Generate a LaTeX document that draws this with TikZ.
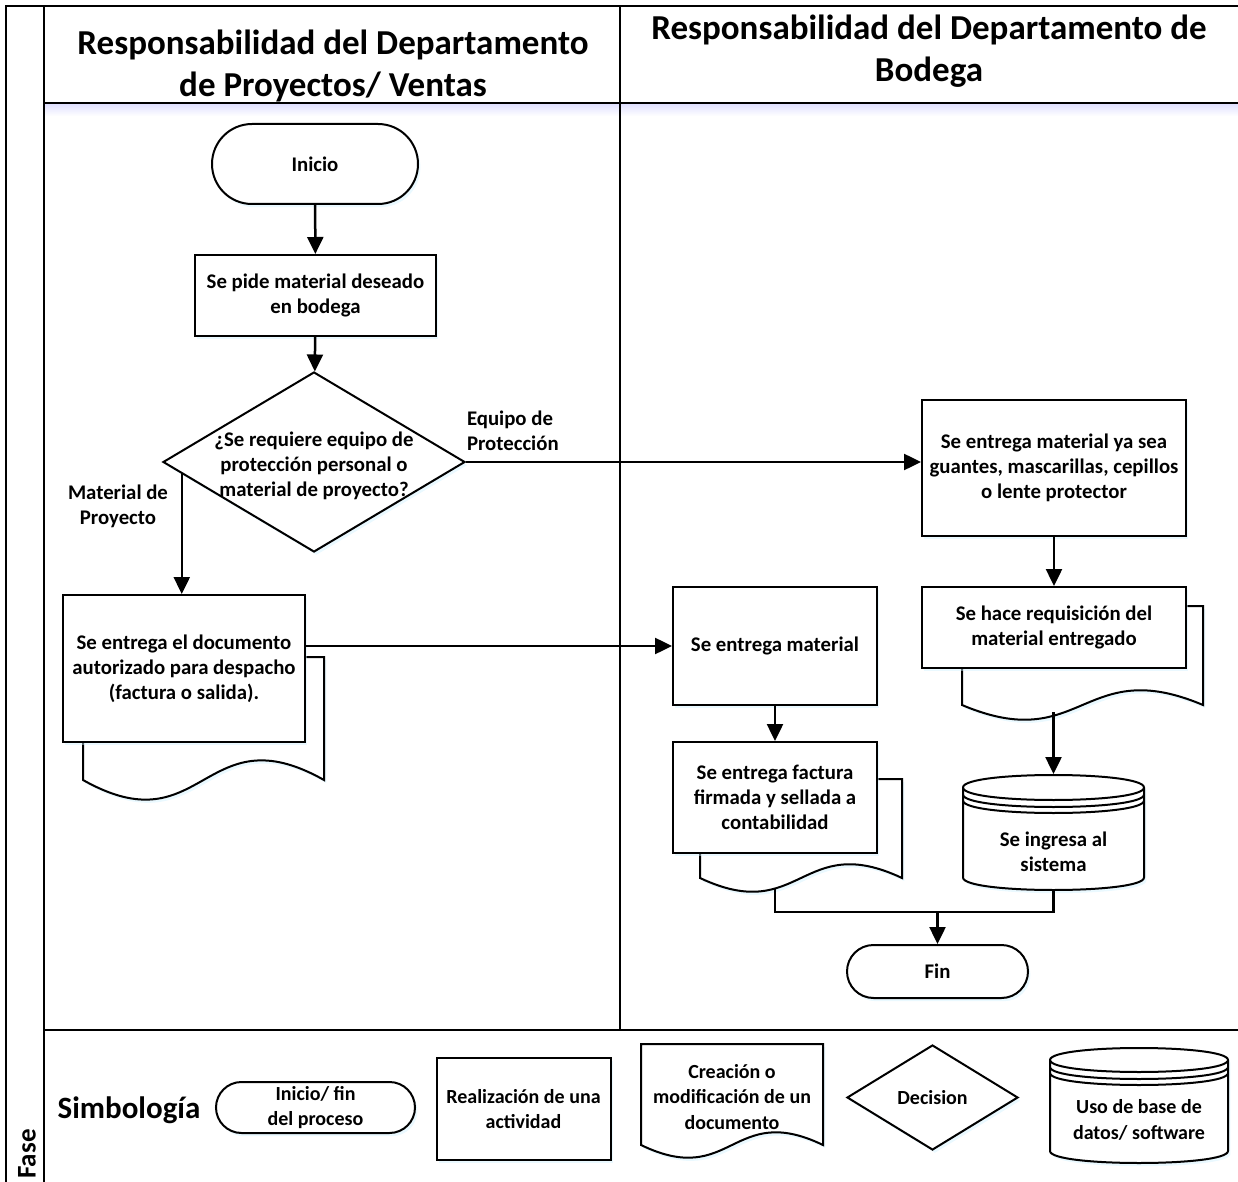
\documentclass[tikz,border=0pt]{standalone}
\usepackage{fontspec}
\setmainfont{Carlito}
\usetikzlibrary{shapes.geometric,shapes.misc,arrows.meta,calc,shadows}

% back sheet of a document: L R T B wave
\newcommand{\hojaatras}[5]{%
  \pgfmathsetmacro{\mw}{(#2-#1)/2}%
  \pgfmathsetmacro{\ola}{3.4*#5}%
  \draw[fill=white, sombra] (#1,#3) -- (#2,#3) -- (#2,#4)
    .. controls (#2-\mw,#4-\ola) and (#1+\mw,#4+\ola) .. (#1,#4) -- cycle;
}
% data base drum: L R T B ry
\newcommand{\basedatos}[5]{%
  \pgfmathsetmacro{\dbc}{4/3*#5}%
  \draw[fill=white, sombra] (#1,#3+#5) -- (#1,#4-#5)
    .. controls (#1,#4-#5+\dbc) and (#2,#4-#5+\dbc) .. (#2,#4-#5)
    -- (#2,#3+#5) .. controls (#2,#3+#5-\dbc) and (#1,#3+#5-\dbc) .. (#1,#3+#5) -- cycle;
  \foreach \desp in {0,7,13}
    \draw (#1,#3+#5+\desp) .. controls (#1,#3+#5+\desp+\dbc) and (#2,#3+#5+\desp+\dbc) .. (#2,#3+#5+\desp);
}

\tikzset{
  sombra/.style={drop shadow={shadow xshift=1.2pt, shadow yshift=-1.6pt, fill=blue!30!cyan!18, opacity=.45}},
  every node/.style={font=\bfseries\fontsize{10.4}{12.6}\selectfont, align=center},
}

\begin{document}
\begin{tikzpicture}[x=0.5pt, y=-0.5pt, line width=1pt,
  caja/.style={draw, fill=white, rectangle, inner sep=2pt, sombra},
  inicio/.style={draw, fill=white, rounded rectangle, inner sep=0pt, sombra},
  decision/.style={draw, fill=white, diamond, inner sep=0pt, sombra},
  texto/.style={inner sep=0pt},
  leyenda/.style={font=\bfseries\fontsize{10}{12.6}\selectfont},
  titulo/.style={font=\bfseries\fontsize{17.5}{21}\selectfont},
  flecha/.style={line width=1.25pt, -{Triangle[length=8.5pt,width=8pt]}},
  linea/.style={line width=1.25pt},
  marco/.style={line width=1.1pt}]
\useasboundingbox (0,0) rectangle (1238,1182);

% lanes
\fill[top color=blue!12, bottom color=white, draw=none] (44,104) rectangle (1238,116);
\draw[marco] (6,1182) -- (6,6) -- (1238,6);
\draw[marco] (44,6) -- (44,1182);
\draw[marco] (44,103) -- (1238,103);
\draw[marco] (620,6) -- (620,1030);
\draw[marco] (44,1030) -- (1238,1030);

\node[titulo] (tit1) at (333,66) {Responsabilidad del Departamento\\de Proyectos/ Ventas};
\node[titulo] (tit2) at (929,51) {Responsabilidad del Departamento de\\Bodega};
\node[rotate=90, font=\bfseries\fontsize{13.5}{15}\selectfont] (fase) at (27,1154) {Fase};

% back sheets and data bases
\hojaatras{83}{324}{657}{780}{20}
\hojaatras{700}{902}{779}{878}{14}
\hojaatras{962}{1203}{606}{705}{15}
\basedatos{963}{1144}{775}{890}{12.5}

% flow
\node[inicio, minimum width=103pt, minimum height=40pt] (ini) at (315,164) {Inicio};
\node[caja, minimum width=120.5pt, minimum height=40.5pt] (pide) at (315.5,295.5) {Se pide material deseado\\en bodega};
\node[decision, minimum width=151pt, minimum height=90pt] (dec) at (314,462) {};
\node[texto] (dectxt) at (314,466) {¿Se requiere equipo de\\protección personal o\\material de proyecto?};
\node[caja, minimum width=121pt, minimum height=73.5pt] (doc1) at (184,668.5) {Se entrega el documento\\autorizado para despacho\\(factura o salida).};
\node[caja, minimum width=102pt, minimum height=59pt] (mat) at (775,646) {Se entrega material};
\node[caja, minimum width=102pt, minimum height=55.5pt] (fact) at (775,797.5) {Se entrega factura\\firmada y sellada a\\contabilidad};
\node[caja, minimum width=132pt, minimum height=68pt] (prot) at (1054,468) {Se entrega material ya sea\\guantes, mascarillas, cepillos\\o lente protector};
\node[caja, minimum width=132pt, minimum height=40.5pt] (req) at (1054,627.5) {Se hace requisición del\\material entregado};
\node[minimum width=90.5pt, minimum height=57.5pt] (ing) at (1053.5,832.5) {};
\node[texto] (ingtxt) at (1053.5,852) {Se ingresa al\\sistema};
\node[inicio, minimum width=90.5pt, minimum height=26.5pt] (fin) at (937.5,971.5) {Fin};

\node[texto, align=left, anchor=west] (lbl1) at (466,431) {Equipo de\\Protección};
\node[texto] (lbl2) at (118,506) {Material de\\Proyecto};

\coordinate (decizq) at ($(dec.west)!0.13!(dec.south)$);
\coordinate (factola) at (775,889);
\coordinate (reqola) at (1053.5,712);
\coordinate (union) at (937.5,912);

\draw[flecha] (ini) -- (pide);
\draw[flecha] (pide) -- (dec);
\draw[flecha] (dec.east) -- (dec.east -| prot.west);
\draw[flecha] (decizq) -- (decizq |- doc1.north);
\draw[flecha] (mat.west -| doc1.east) -- (mat.west);
\draw[flecha] (mat) -- (fact);
\draw[flecha] (prot) -- (req);
\draw[flecha] (reqola) -- (ing.north);
\draw[linea] (factola) |- (ing.south |- union) -- (ing.south);
\draw[flecha] (union) -- (fin.north);

% legend
\node[font=\bfseries\fontsize{15.5}{18}\selectfont] (simb) at (129,1110) {Simbología};
\node[inicio, leyenda, minimum width=99.5pt, minimum height=25.5pt] (leyini) at (315.5,1107.5) {Inicio/ fin\\del proceso};
\node[caja, leyenda, minimum width=87pt, minimum height=51pt] (leyact) at (523.5,1109) {Realización de una\\actividad};
\draw[fill=white, sombra] (641,1044) -- (823,1044) -- (823,1145)
  .. controls (732,1101) and (732,1189) .. (641,1145) -- cycle;
\node[texto, leyenda] (leydoc) at (732,1097) {Creación o\\modificación de un\\documento};
\node[decision, leyenda, minimum width=85.5pt, minimum height=52.5pt] (leydec) at (932.5,1097.5) {Decision};
\basedatos{1050}{1228}{1048}{1163}{12}
\node[texto, leyenda] (leydb) at (1139,1120) {Uso de base de\\datos/ software};
\end{tikzpicture}
\end{document}
